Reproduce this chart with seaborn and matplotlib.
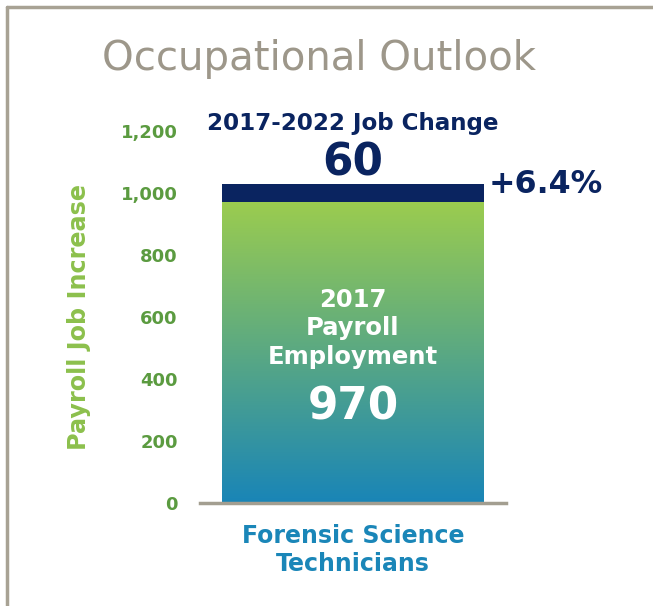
import matplotlib
matplotlib.use("Agg")
import matplotlib.pyplot as plt
import seaborn as sns
import numpy as np
import pandas as pd
from matplotlib.colors import LinearSegmentedColormap
from matplotlib.lines import Line2D

# ---- data ----
categories = ["Forensic Science\nTechnicians"]
employment_2017 = [970]
job_change = [60]
pct_change = ["+6.4%"]
yticks = [0, 200, 400, 600, 800, 1000, 1200]
ytick_labels = ["0", "200", "400", "600", "800", "1,000", "1,200"]

sns.set_theme(style="white")
plt.rcParams["font.family"] = ["DejaVu Sans"]

NAVY = "#0a2460"
GREEN_TOP = "#9bcc4f"
BLUE_BOT = "#1985b7"
TICK_GREEN = "#5b9b40"
LABEL_GREEN = "#8cc04c"
GRAY = "#a39e90"

df = pd.DataFrame({
    "cat": categories,
    "base": employment_2017,
    "total": [b + c for b, c in zip(employment_2017, job_change)],
})

fig = plt.figure(figsize=(6.53, 6.06), dpi=100)
W, H = 653, 606
ax = fig.add_axes([200 / W, 1 - 503 / H, 306 / W, (503 - 131) / H])

sns.barplot(data=df, x="cat", y="total", color=NAVY, width=0.856, ax=ax,
            saturation=1, edgecolor="none")
sns.barplot(data=df, x="cat", y="base", color=GREEN_TOP, width=0.856, ax=ax,
            saturation=1, edgecolor="none")

# gradient over base bar
base_patch = ax.patches[-1]
x0 = base_patch.get_x()
w = base_patch.get_width()
h = base_patch.get_height()
cmap = LinearSegmentedColormap.from_list("g", [BLUE_BOT, GREEN_TOP])
grad = np.linspace(0, 1, 256).reshape(-1, 1)
im = ax.imshow(grad, cmap=cmap, aspect="auto", origin="lower",
               extent=[x0, x0 + w, 0, h], zorder=2)
im.set_clip_path(base_patch)

ax.set_xlim(-0.5, 0.5)
ax.set_ylim(0, 1200)
ax.set_yticks(yticks)
ax.set_yticklabels(ytick_labels)
ax.tick_params(axis="y", length=0, pad=16, labelsize=13, labelcolor=TICK_GREEN)
for t in ax.get_yticklabels():
    t.set_fontweight("bold")
ax.tick_params(axis="x", length=0, pad=15, labelsize=17, labelcolor="#1a86b8")
for t in ax.get_xticklabels():
    t.set_fontweight("bold")
    t.set_linespacing(1.2)
ax.set_xlabel("")
ax.set_ylabel("Payroll Job Increase", fontsize=17.2, fontweight="bold",
              color=LABEL_GREEN, labelpad=21.5)
for s in ["top", "right", "left"]:
    ax.spines[s].set_visible(False)
ax.spines["bottom"].set_color(GRAY)
ax.spines["bottom"].set_linewidth(2.5)
ax.set_facecolor("none")

xc = 0.0
for txt, yv in [("2017", 632), ("Payroll", 542), ("Employment", 448)]:
    ax.text(xc, yv, txt, ha="center", va="baseline", color="white",
            fontsize=17.5, fontweight="bold", zorder=5)
ax.text(xc, 268, f"{employment_2017[0]}", ha="center", va="baseline",
        color="white", fontsize=31.5, fontweight="bold", zorder=5)

ax.text(xc, 1055, f"{job_change[0]}", ha="center", va="baseline",
        color=NAVY, fontsize=31.5, fontweight="bold", clip_on=False)
ax.text(xc, 1203, "2017-2022 Job Change", ha="center", va="baseline",
        color=NAVY, fontsize=16.6, fontweight="bold", clip_on=False)
ax.text(0.443, 1000, pct_change[0], ha="left", va="baseline",
        color=NAVY, fontsize=22.8, fontweight="bold", clip_on=False)

fig.text(319 / W, 1 - 70 / H, "Occupational Outlook", ha="center", va="baseline",
         color="#9d978a", fontsize=29)

# frame
fig.add_artist(Line2D([7 / W, 7 / W], [0, 1 - 7 / H], color="#a8a294", lw=2.5,
                      transform=fig.transFigure))
fig.add_artist(Line2D([7 / W, 1], [1 - 7 / H, 1 - 7 / H], color="#a8a294", lw=2.5,
                      transform=fig.transFigure))

fig.savefig("out.png", dpi=100)
